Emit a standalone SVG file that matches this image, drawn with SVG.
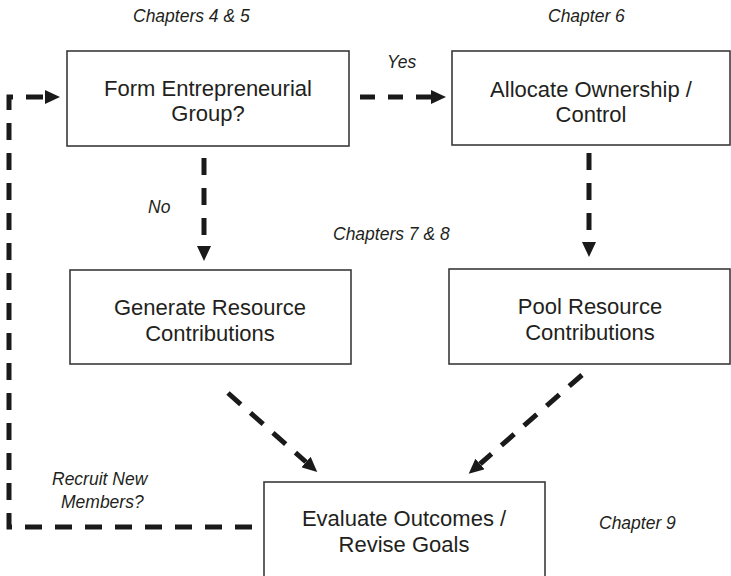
<svg xmlns="http://www.w3.org/2000/svg" width="731" height="576" viewBox="0 0 731 576">
<defs>
<marker id="ah" markerUnits="userSpaceOnUse" markerWidth="15" markerHeight="14" refX="0" refY="7" orient="auto">
<path d="M0,0 L15,7 L0,14 z" fill="#1a1a1a"/>
</marker>
<style>
.box{fill:#fff;stroke:#3a3a3a;stroke-width:1.6}
.t{font-family:"Liberation Sans",Arial,sans-serif;font-size:22px;fill:#231f20;text-anchor:middle}
.lbl{font-family:"Liberation Sans",Arial,sans-serif;font-size:17.5px;font-style:italic;fill:#231f20}
.c{fill:none;stroke:#1a1a1a;stroke-width:5;stroke-dasharray:17 13}
</style>
</defs>
<rect width="731" height="576" fill="#fff"/>
<g id="connectors">
<path class="c" d="M360,97 H431" style="stroke-dasharray:15 13" marker-end="url(#ah)"/>
<path class="c" d="M204,158 V246" marker-end="url(#ah)"/>
<path class="c" d="M589,153 V242" marker-end="url(#ah)"/>
<path class="c" d="M228,393 L306,462" marker-end="url(#ah)"/>
<path class="c" d="M582,375 L480,464" marker-end="url(#ah)"/>
<path class="c" d="M252,527 H9 V97 H45" marker-end="url(#ah)"/>
</g>
<g id="form-group">
<rect class="box" x="67" y="51" width="282" height="95"/>
<text class="t" x="208" y="96">Form Entrepreneurial</text>
<text class="t" x="208" y="121">Group?</text>
</g>
<g id="allocate">
<rect class="box" x="452" y="51" width="278" height="94"/>
<text class="t" x="591" y="97">Allocate Ownership /</text>
<text class="t" x="591" y="122">Control</text>
</g>
<g id="generate">
<rect class="box" x="70" y="270" width="281" height="94"/>
<text class="t" x="210" y="315">Generate Resource</text>
<text class="t" x="210" y="341">Contributions</text>
</g>
<g id="pool">
<rect class="box" x="449" y="269" width="281" height="95"/>
<text class="t" x="590" y="314">Pool Resource</text>
<text class="t" x="590" y="340">Contributions</text>
</g>
<g id="evaluate">
<rect class="box" x="264" y="482" width="281" height="110"/>
<text class="t" x="404" y="526">Evaluate Outcomes /</text>
<text class="t" x="404" y="552">Revise Goals</text>
</g>
<g id="labels">
<text class="lbl" x="133" y="22">Chapters 4 &amp; 5</text>
<text class="lbl" x="548" y="22">Chapter 6</text>
<text class="lbl" x="387" y="68">Yes</text>
<text class="lbl" x="148" y="213">No</text>
<text class="lbl" x="333" y="240">Chapters 7 &amp; 8</text>
<text class="lbl" x="52" y="485">Recruit New</text>
<text class="lbl" x="61" y="508">Members?</text>
<text class="lbl" x="599" y="529">Chapter 9</text>
</g>
</svg>
